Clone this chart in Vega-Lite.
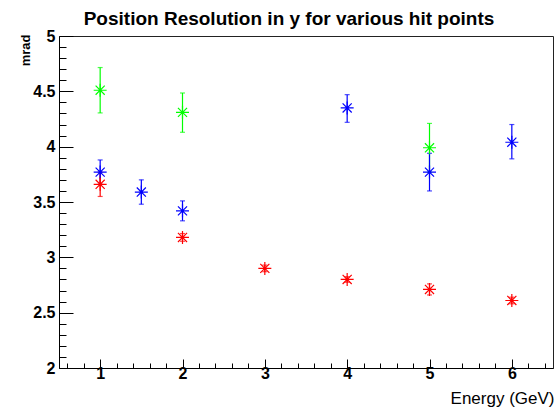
{
  "$schema": "https://vega.github.io/schema/vega-lite/v6.json",
  "autosize": "none",
  "width": 494,
  "height": 332,
  "padding": {"left": 59, "top": 36, "right": 2, "bottom": 40},
  "background": "white",
  "title": {
    "text": "Position Resolution in y for various hit points",
    "font": "Liberation Sans",
    "fontSize": 19,
    "fontWeight": "bold",
    "color": "black",
    "anchor": "middle",
    "frame": "group",
    "offset": 10,
    "baseline": "alphabetic",
    "dx": -17,
    "dy": 26
  },
  "config": {
    "view": {"stroke": "#222", "strokeWidth": 1},
    "axis": {
      "domainColor": "black",
      "tickColor": "black",
      "grid": false,
      "labelColor": "black",
      "titleColor": "black"
    }
  },
  "data": {
    "values": [
      {"series": "green", "E": 1, "v": 4.51, "lo": 4.305, "hi": 4.715},
      {"series": "green", "E": 2, "v": 4.31, "lo": 4.13, "hi": 4.485},
      {"series": "green", "E": 5, "v": 3.99, "lo": 3.77, "hi": 4.21},
      {"series": "blue", "E": 1, "v": 3.77, "lo": 3.66, "hi": 3.88},
      {"series": "blue", "E": 1.5, "v": 3.59, "lo": 3.48, "hi": 3.7},
      {"series": "blue", "E": 2, "v": 3.42, "lo": 3.33, "hi": 3.51},
      {"series": "blue", "E": 4, "v": 4.35, "lo": 4.22, "hi": 4.47},
      {"series": "blue", "E": 5, "v": 3.77, "lo": 3.6, "hi": 3.94},
      {"series": "blue", "E": 6, "v": 4.04, "lo": 3.89, "hi": 4.2},
      {"series": "red", "E": 1, "v": 3.66, "lo": 3.55, "hi": 3.77},
      {"series": "red", "E": 2, "v": 3.18, "lo": 3.145, "hi": 3.215},
      {"series": "red", "E": 3, "v": 2.9, "lo": 2.87, "hi": 2.93},
      {"series": "red", "E": 4, "v": 2.8, "lo": 2.775, "hi": 2.825},
      {"series": "red", "E": 5, "v": 2.71, "lo": 2.66, "hi": 2.76},
      {"series": "red", "E": 6, "v": 2.61, "lo": 2.58, "hi": 2.64}
    ]
  },
  "layer": [
    {
      "mark": {"type": "rule", "strokeWidth": 1.2},
      "encoding": {
        "x": {
          "field": "E", "type": "quantitative",
          "scale": {"domain": [0.5, 6.5], "nice": false, "zero": false},
          "axis": {
            "orient": "bottom",
            "values": [1, 2, 3, 4, 5, 6],
            "format": "~g",
            "tickSize": -9,
            "labelPadding": 6,
            "labelFont": "Liberation Sans",
            "labelFontSize": 16,
            "labelFontWeight": "bold",
            "labelFlush": false,
            "title": "Energy (GeV)",
            "titleFont": "Liberation Sans",
            "titleFontSize": 17,
            "titleFontWeight": "normal",
            "titleAlign": "right",
            "titleBaseline": "alphabetic",
            "titleX": 495,
            "titleY": 35
          }
        },
        "y": {
          "field": "lo", "type": "quantitative",
          "scale": {"domain": [2, 5], "nice": false, "zero": false},
          "axis": {
            "orient": "left",
            "values": [2, 2.5, 3, 3.5, 4, 4.5, 5],
            "format": "~g",
            "tickSize": -14,
            "labelPadding": 18,
            "labelFont": "Liberation Sans",
            "labelFontSize": 16,
            "labelFontWeight": "bold",
            "labelFlush": false,
            "title": "mrad",
            "titleFont": "Liberation Sans",
            "titleFontSize": 13,
            "titleFontWeight": "bold",
            "titleAngle": -90,
            "titleAlign": "right",
            "titleBaseline": "alphabetic",
            "titleX": -30,
            "titleY": -2
          }
        },
        "y2": {"field": "hi"},
        "color": {
          "field": "series", "type": "nominal",
          "scale": {"domain": ["green", "blue", "red"], "range": ["#00ff00", "#0000ff", "#ff0000"]},
          "legend": null
        }
      }
    },
    {
      "mark": {"type": "tick", "orient": "horizontal", "size": 5, "thickness": 1.2},
      "encoding": {
        "x": {
          "field": "E", "type": "quantitative",
          "axis": {
            "orient": "bottom",
            "values": [0.6, 0.8, 1.2, 1.4, 1.6, 1.8, 2.2, 2.4, 2.6, 2.8, 3.2, 3.4, 3.6, 3.8, 4.2, 4.4, 4.6, 4.8, 5.2, 5.4, 5.6, 5.8, 6.2, 6.4],
            "tickSize": -5,
            "labels": false,
            "domain": false,
            "title": null
          }
        },
        "y": {
          "field": "lo", "type": "quantitative",
          "axis": {
            "orient": "left",
            "values": [2.1, 2.2, 2.3, 2.4, 2.6, 2.7, 2.8, 2.9, 3.1, 3.2, 3.3, 3.4, 3.6, 3.7, 3.8, 3.9, 4.1, 4.2, 4.3, 4.4, 4.6, 4.7, 4.8, 4.9],
            "tickSize": -7,
            "labels": false,
            "domain": false,
            "title": null
          }
        },
        "color": {"field": "series", "type": "nominal", "legend": null}
      }
    },
    {
      "mark": {"type": "tick", "orient": "horizontal", "size": 5, "thickness": 1.2},
      "encoding": {
        "x": {"field": "E", "type": "quantitative", "axis": null},
        "y": {"field": "hi", "type": "quantitative", "axis": null},
        "color": {"field": "series", "type": "nominal", "legend": null}
      }
    },
    {
      "mark": {
        "type": "point",
        "filled": false,
        "strokeWidth": 1.2,
        "opacity": 1,
        "size": 169,
        "shape": "M-1,0H1M0,-1V1M-0.7,-0.7L0.7,0.7M-0.7,0.7L0.7,-0.7"
      },
      "encoding": {
        "x": {"field": "E", "type": "quantitative", "axis": null},
        "y": {"field": "v", "type": "quantitative", "axis": null},
        "color": {"field": "series", "type": "nominal", "legend": null}
      }
    }
  ],
  "resolve": {"axis": {"x": "independent", "y": "independent"}}
}
